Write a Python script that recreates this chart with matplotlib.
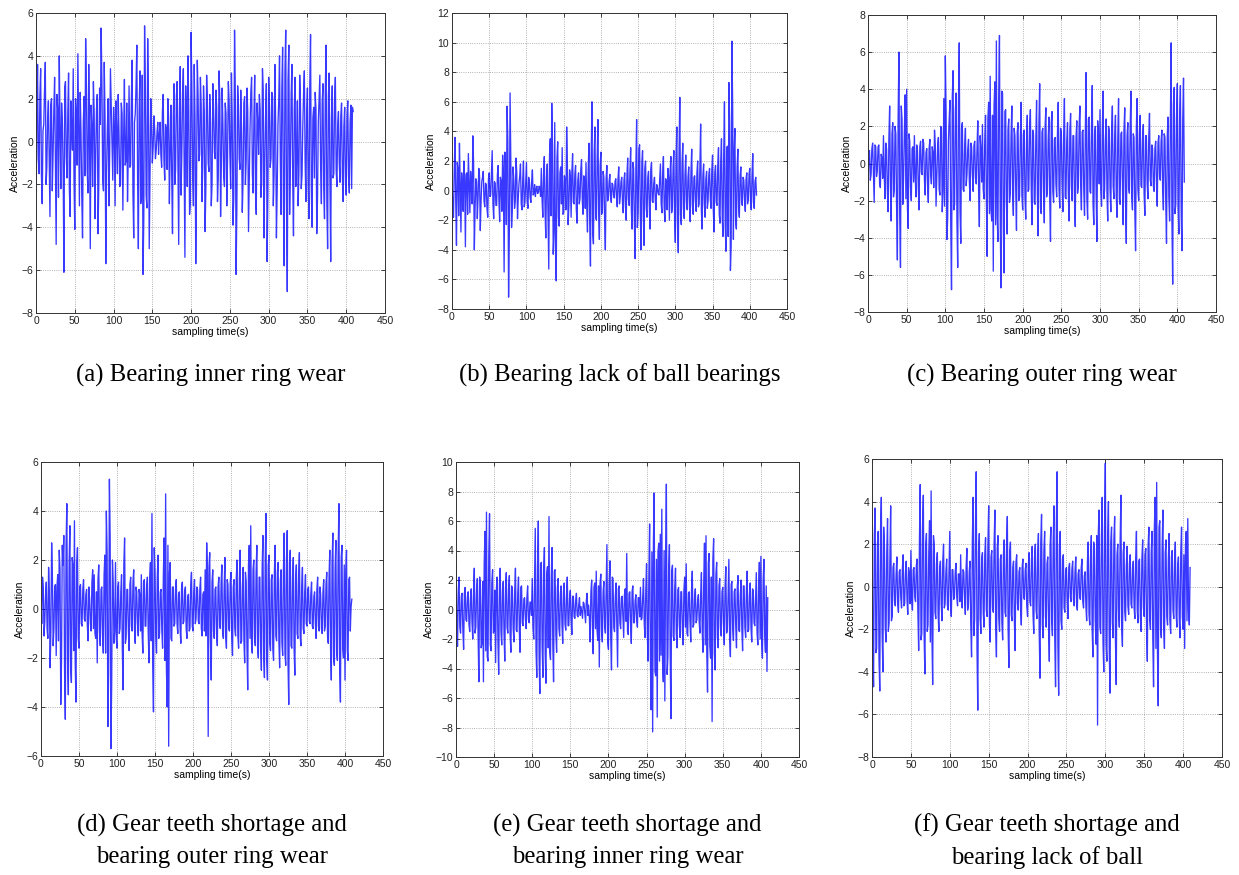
import numpy as np
import matplotlib
matplotlib.use("Agg")
import matplotlib.pyplot as plt

plt.rcParams["font.family"] = ["Liberation Sans", "DejaVu Sans"]

# Each signal is read off in two passes: even samples (t = 0, 2, 4, ...)
# and odd samples (t = 1, 3, 5, ...).

# (a) Bearing inner ring wear
A_EVEN = [
    -4.2, 3.6, -1.5, 3.4, -2.9, 0.8, 3.7, -1.2, 1.9, -3.5,
    2.0, -0.6, 3.0, -4.8, 1.5, 4.0, -2.2, 0.9, -6.1, 2.8,
    -1.7, 3.2, -3.5, 0.6, 3.4, -4.1, 1.2, 4.1, -3.0, 0.5,
    -4.5, 2.1, 4.8, -1.3, 3.6, -5.0, 0.7, 2.8, -3.6, 1.5,
    -4.3, 2.5, 5.3, -1.8, 3.7, -5.7, 0.6, -3.0, 3.4, -0.4,
    1.6, -3.0, 0.5, 2.2, -2.1, 1.8, -3.2, 2.9, -0.9, -2.8,
    2.6, -1.1, 3.8, -4.5, 1.3, 4.5, -5.0, 3.3, -2.6, -6.2,
    5.4, -2.5, 4.8, -5.0, 2.0, -1.0, 1.2, -0.8, 0.4, -0.6,
    0.9, -1.2, 2.2, -1.8, 0.6, 2.0, -2.9, 1.7, -4.3, 2.7,
    -1.3, 2.8, -4.8, 3.5, -0.6, 3.4, -5.4, 1.2, 4.0, -3.4,
    5.1, -1.6, 3.6, -5.7, 3.8, -0.9, 3.0, -2.8, 2.6, -4.2,
    3.1, -1.0, 2.2, -3.0, 2.7, -0.5, 2.4, -2.8, 3.3, -3.5,
    2.5, -1.6, 1.8, -3.0, 2.8, -0.6, 3.2, -3.9, 5.2, -6.2,
    2.6, -0.8, 2.4, -3.3, 1.8, -2.0, 2.5, -4.2, 0.7, 3.0,
    -2.4, 3.1, -3.4, 0.9, 2.2, -2.6, 3.4, -4.5, 1.2, -5.6,
    3.0, -1.2, 2.3, -3.0, 3.6, -4.5, 0.8, 4.0, -3.4, 4.4,
    -5.8, 5.2, -7.0, 4.5, -1.2, 3.6, -4.4, 3.0, -0.8, -3.0,
    3.1, -2.2, 0.7, 3.3, -2.8, 2.5, -3.6, 5.0, -4.0, 1.6,
    2.3, -4.3, 0.9, 3.1, -2.9, 2.7, -3.6, 4.5, -5.0, 3.2,
    -5.6, 2.6, -1.5, 3.0, -2.1, 1.4, -1.9, 1.8, -2.8, 1.6,
    -2.5, 1.9, -2.4, 1.7, 1.6,
]
A_ODD = [
    1.2, -0.8, 2.1, -1.6, 0.5, 2.4, -2.0, 1.1, -0.9, 1.7,
    -2.3, 1.5, -1.0, 2.2, -2.6, 0.6, 1.8, -1.4, 2.5, -0.7,
    1.3, -2.2, 1.9, -0.4, -1.8, 2.0, -1.1, 0.7, 2.3, -2.5,
    0.9, -1.6, 2.6, -2.4, 0.3, 1.7, -2.1, 1.4, -0.6, 2.2,
    -1.9, 0.8, 2.7, -2.3, 1.1, -1.4, 2.0, -0.5, 1.6, -1.8,
    0.7, 1.9, -1.5, 0.4, -2.0, 1.3, 0.2, -1.1, 1.8, -0.6,
    -1.2, 2.1, -2.4, 0.9, 2.6, -1.7, 1.5, -2.9, 3.1, -3.6,
    2.7, -3.1, 1.9, -1.6, 0.8, -0.3, 0.6, -0.4, 0.9, 0.3,
    -0.6, 1.4, -0.9, 0.8, -1.3, 1.1, -0.4, -1.6, 1.2, -2.0,
    2.1, -0.8, 1.6, -2.5, 2.2, -1.3, 2.6, -2.1, 1.4, -2.8,
    2.4, -3.0, 1.2, -1.9, 2.1, -0.6, 1.7, -1.2, 1.4, -2.2,
    1.8, -1.4, 0.9, -2.0, 1.5, -0.8, 1.6, -1.7, 2.0, -1.1,
    0.8, -2.1, 1.3, -0.7, 1.9, -2.2, 1.0, -2.6, 2.2, -3.1,
    1.7, -1.3, 0.6, -1.8, 2.1, -0.9, 1.4, -1.6, 2.3, -1.5,
    1.2, -2.3, 1.8, -0.6, 1.5, -1.9, 2.4, -1.0, 2.7, -2.4,
    1.6, -0.8, 2.1, -1.5, 0.9, -2.2, 1.9, -0.7, 2.5, -2.8,
    3.3, -2.6, 2.9, -3.4, 2.2, -1.8, 1.5, -2.1, 1.9, -1.4,
    1.8, -1.6, 2.2, -0.9, 1.4, -2.0, 2.6, -2.3, 1.1, -1.7,
    1.5, -2.6, 2.0, -1.2, 1.8, -2.2, 2.3, -2.8, 2.1, -2.0,
    1.1, -1.7, 2.0, -1.3, 0.8, -1.0, 1.2, -1.5, 0.7, -1.9,
    1.2, -1.6, 0.9, -2.2, 1.4,
]

# (b) Bearing lack of ball bearings
B_EVEN = [
    0.5, -1.8, 3.6, -3.7, 1.5, 3.2, -2.8, 0.4, 2.0, -3.8,
    1.2, 2.5, -1.5, 0.3, 3.7, -4.0, 0.8, -1.9, 1.5, -2.7,
    0.6, 1.3, -1.1, 0.4, -1.8, 1.2, -0.3, 2.7, -1.9, 0.5,
    -1.0, 1.7, -2.1, 0.6, 2.4, -5.5, 1.8, 5.7, -7.2, 6.6,
    -2.5, 1.6, -1.2, 2.2, -1.9, 0.5, 1.8, -1.3, 2.0, -0.8,
    1.9, -1.2, 0.6, -0.8, 1.4, -0.2, -0.4, 0.3, -0.1, 0.2,
    1.5, -1.8, 2.3, -3.2, 1.8, -5.3, 3.5, 5.9, -4.3, 4.6,
    -6.1, 3.3, -2.4, 1.6, 2.9, -1.5, 0.7, 4.3, -2.3, 1.4,
    -1.8, 2.5, -0.9, 1.7, -2.2, 1.2, -0.5, 2.1, -1.6, 0.8,
    1.9, -2.8, 3.2, -5.1, 6.0, -3.6, 4.3, -2.0, 4.8, -3.3,
    2.6, -1.4, 0.9, -4.0, 1.7, -0.6, 1.1, -0.8, 0.4, -0.5,
    0.8, -1.1, 1.6, -0.4, 0.9, -1.5, 1.2, -2.0, 2.2, -1.0,
    2.9, -2.6, 1.5, -4.6, 4.8, -1.5, 3.1, -4.0, 2.7, -3.7,
    2.0, -1.8, 1.3, -2.6, 1.9, -0.8, 0.9, -1.3, 0.2, -0.3,
    1.8, -1.5, 2.3, -2.1, 0.6, 1.5, -2.0, 2.3, -1.2, 2.7,
    -3.5, 4.3, -4.2, 6.3, -2.3, 3.2, -1.9, 2.4, -1.3, 1.6,
    -2.1, 2.8, -1.6, 1.0, -1.4, 2.0, -0.9, 4.5, -2.6, 1.8,
    -1.8, 1.3, -0.7, 1.5, -1.2, 2.4, -2.8, 1.7, -1.0, 2.9,
    -2.2, 3.5, -3.1, 6.0, -4.1, 3.0, 7.3, -5.4, 10.1, -3.3,
    4.2, -2.6, 2.8, -1.8, 1.6, -1.0, 0.7, -1.4, 1.2, -0.6,
    1.5, -1.3, 2.5, -1.2, 0.9,
]
B_ODD = [
    -1.0, 1.4, -0.6, 1.9, -1.7, 0.5, 1.2, -1.4, 0.8, 1.1,
    -1.6, 0.4, 1.3, -0.9, 1.8, -1.2, 0.6, -0.5, 1.0, -0.8,
    0.9, -0.7, 0.5, -1.2, 0.8, -0.4, 1.1, -0.9, 0.6, -1.0,
    1.1, -0.6, 0.9, -1.4, 1.3, 2.6, -2.3, 3.4, -3.0, 2.2,
    -1.3, 0.8, -0.7, 1.2, -0.5, 1.0, -0.9, 0.7, -1.1, 0.6,
    -0.7, 0.9, -0.5, 0.6, -0.3, 0.4, 0.1, -0.2, 0.3, -0.4,
    -0.6, 1.1, -1.4, 0.9, -2.0, 2.4, -1.7, 3.1, -2.8, -3.9,
    2.2, -1.8, 1.2, -0.9, -1.6, 1.0, -1.3, 1.8, -1.0, 0.9,
    1.2, -0.8, 1.1, -1.3, 0.7, -0.9, 1.4, -0.6, 1.0, -1.2,
    -1.1, 1.5, -2.2, 2.4, -2.9, 2.6, -1.8, 2.2, -1.5, 1.7,
    -1.6, 1.3, -1.9, 0.8, -0.7, 0.6, -0.4, 0.5, -0.3, 0.6,
    -0.5, 0.8, -0.9, 0.6, -0.8, 0.7, -1.1, 1.0, -0.6, 1.3,
    -1.4, 1.9, -2.2, 1.6, -2.5, 2.8, -1.7, 1.9, -1.8, 1.5,
    -1.2, 0.9, -1.0, 1.4, -0.7, 0.5, -0.6, 0.4, -0.2, 0.8,
    -0.9, 1.2, -1.1, 0.8, -1.3, 0.9, 1.3, -1.5, 1.6, -1.8,
    2.1, -2.4, 2.6, -1.6, 1.8, -1.2, 1.1, -0.8, 0.9, -1.1,
    1.3, -1.0, 0.9, -0.7, 1.2, -1.1, 1.6, -1.4, 1.0, -0.9,
    0.8, -1.2, 1.1, -0.6, 1.4, -1.3, 1.2, -0.8, 1.7, -1.6,
    2.0, -1.8, 2.5, -2.3, 2.9, -3.1, 4.6, -3.7, 5.8, 2.6,
    -2.1, 1.6, -1.2, 1.0, -0.8, 0.9, -0.6, 0.8, -0.9, 1.1,
    -0.7, 1.0, -0.8, 0.6, -0.3,
]

# (c) Bearing outer ring wear
C_EVEN = [
    -1.4, 0.7, -0.6, 1.1, -2.1, 0.9, -0.4, 1.0, -1.3, 0.3,
    1.5, -1.9, 0.8, -2.6, 3.1, -3.1, 2.2, -1.4, 1.6, -5.2,
    6.0, -5.6, 2.4, -0.8, 3.7, 4.0, -3.5, 1.2, -2.0, 0.9,
    1.5, -1.8, 0.7, -2.5, 1.2, -0.6, 1.1, -1.7, 0.8, -2.1,
    1.3, -1.1, 0.6, 1.8, -2.3, 0.9, -1.4, 2.0, -2.6, 3.5,
    5.8, -4.1, 1.2, 3.4, -6.8, 5.0, -2.2, 3.8, -5.6, 6.5,
    -4.3, 2.2, -1.5, 1.9, -0.6, 1.3, -2.0, 0.9, -1.5, 1.2,
    -1.1, 2.3, -3.4, 0.8, 2.1, -1.9, 2.6, -5.0, 3.3, 4.7,
    -3.1, -5.8, 4.4, 6.6, -4.2, 6.9, -6.7, 3.8, -5.9, 2.9,
    -3.8, 2.4, -1.6, 3.1, -2.8, 1.5, -3.6, 2.2, -1.8, 3.3,
    -2.5, 1.8, -3.0, 2.6, -1.4, 2.9, -3.3, 1.6, -2.2, 3.4,
    -3.9, 4.3, -2.7, 1.9, -3.2, 3.0, -1.5, 2.5, -4.2, 2.8,
    -2.1, 1.4, -1.8, 3.3, -2.4, 1.7, -2.6, 3.5, -1.9, 2.2,
    -3.1, 2.7, -2.0, 1.5, -3.4, 2.3, -1.2, 3.1, -2.5, 1.8,
    -2.8, 4.9, -3.0, 2.5, -1.6, 4.2, -3.3, 2.0, -4.2, 1.5,
    2.9, -2.3, 3.9, -1.4, 2.4, -3.1, 1.8, -2.6, 3.1, -1.9,
    2.6, -2.9, 3.5, -2.2, 1.7, -3.3, 3.0, -4.3, 2.2, -1.6,
    3.9, -2.5, 1.4, -4.7, 3.5, -2.0, 2.6, -1.3, 2.1, -2.8,
    1.5, -1.9, 2.7, -1.2, 0.8, -1.5, 1.2, -2.3, 1.5, -0.9,
    1.8, -2.5, 1.4, -4.3, 2.5, -3.1, 6.5, -6.5, 4.1, -2.2,
    4.3, -3.8, 4.2, -4.7, 4.6,
]
C_ODD = [
    0.6, -0.9, 0.8, -0.5, 1.0, -0.7, 0.9, -1.1, 0.5, -0.8,
    -0.6, 1.1, -1.4, 1.3, -1.2, 1.6, -1.8, 2.0, -2.4, 2.6,
    -2.8, 3.1, -2.2, 1.7, -1.9, -2.4, 1.6, -1.3, 0.8, -1.0,
    -0.7, 1.0, -1.2, 0.9, -0.5, 1.3, -0.9, 0.6, -1.1, 0.8,
    -0.6, 0.9, -1.3, 1.0, -0.8, 1.4, -1.7, 1.9, -1.5, -2.3,
    2.7, -3.0, 2.4, -3.3, 3.6, -2.5, 2.9, -3.1, 3.3, -2.6,
    1.9, -1.4, 1.0, -1.2, 0.8, -0.9, 1.1, -0.6, 1.0, -0.8,
    0.9, -1.3, 1.5, -1.0, -1.4, 1.2, -1.6, 2.4, -2.7, -2.5,
    2.6, 3.1, -3.3, -2.8, 3.6, -3.2, 3.9, -3.5, 2.8, -2.1,
    1.8, -2.1, 1.5, -1.6, 1.9, -1.3, 1.7, -2.0, 1.4, -1.7,
    1.6, -1.9, 1.2, -1.5, 2.0, -1.1, 1.8, -2.1, 1.3, -1.6,
    2.1, -2.4, 1.7, -1.4, 2.0, -1.8, 1.3, -1.9, 2.2, -1.5,
    1.3, -1.1, 1.6, -1.4, 1.9, -1.0, 1.5, -1.8, 1.2, -1.5,
    1.8, -1.3, 1.5, -1.9, 1.4, -1.6, 2.0, -1.2, 1.7, -1.4,
    1.6, -1.9, 2.4, -1.5, 1.9, -2.2, 1.6, -1.7, 2.3, -1.1,
    -1.4, 1.8, -1.9, 1.3, -1.6, 2.0, -1.4, 1.7, -1.2, 1.5,
    -1.7, 1.4, -1.9, 1.6, -1.1, 1.8, -2.1, 1.5, -1.3, 1.9,
    -1.8, 1.6, -2.5, 1.9, -1.4, 1.7, -1.2, 1.3, -1.6, 1.5,
    -1.1, 1.3, -0.9, 1.0, -1.2, 0.8, -1.0, 1.1, -0.7, 1.2,
    -1.4, 1.6, -2.0, 1.5, -1.8, 2.2, -3.1, 3.2, -2.7, 2.5,
    -2.3, 2.6, -2.8, 2.4, -1.0,
]

# (d) Gear teeth shortage and bearing outer ring wear
D_EVEN = [
    0.4, 1.3, -1.1, 0.6, -0.8, 1.7, -2.4, 2.7, -1.5, 0.9,
    -1.9, 1.4, 2.4, -3.9, 2.6, 3.0, -4.5, 4.3, -3.5, 3.4,
    -3.0, 1.8, 3.6, -3.8, 2.5, -1.6, 1.0, -0.7, 1.2, -0.5,
    0.8, -1.3, 0.4, -0.9, 1.6, 1.4, -1.2, -2.2, 1.8, -1.5,
    0.9, -1.8, 2.2, 4.0, -4.8, 5.3, -5.7, 2.0, -1.4, 1.9,
    -1.6, 1.1, -0.8, 1.4, -3.3, 2.9, -1.2, 0.8, -1.7, 1.3,
    -0.9, 1.6, -1.4, 0.7, -1.1, 0.6, 1.4, -1.8, 1.2, -0.7,
    1.3, -2.2, 1.9, 3.9, -4.2, 1.5, -1.8, 2.2, -1.0, 0.8,
    -1.6, 2.9, 4.7, -4.0, -5.6, 1.9, -1.3, 0.9, -0.6, 1.2,
    -1.0, 0.7, -1.4, 1.1, -0.5, 0.9, -1.2, 0.6, -0.8, 1.5,
    -0.9, 1.2, -0.4, 0.8, -0.6, 1.3, -1.1, 0.7, 1.6, 2.7,
    -5.2, 2.3, -2.9, 1.6, -1.2, 0.9, -1.5, 1.3, -0.8, 1.8,
    -1.2, 2.1, -1.6, 1.0, -0.9, 1.5, -1.9, 1.2, -1.1, 2.0,
    -1.6, 2.4, -1.3, 1.7, -2.2, 1.1, -3.3, 2.6, 3.4, -1.8,
    2.0, -1.5, 2.6, -2.0, 1.3, -2.5, 3.0, -2.8, 3.9, -2.9,
    2.2, -1.7, 1.4, -2.1, 2.6, -1.3, 1.9, -2.4, 1.6, -1.9,
    3.1, -2.3, 3.2, -3.9, 2.4, -1.6, 2.1, -2.7, 1.8, -1.2,
    2.3, -1.5, 1.7, -1.0, 1.4, -0.7, 0.9, -0.6, 1.1, -0.8,
    0.7, -1.2, 1.3, -0.9, 0.6, -1.0, 1.2, -0.7, 1.5, -1.4,
    2.4, -2.9, 3.1, -2.3, 2.8, -2.1, 4.3, -3.8, 2.6, -2.0,
    -2.9, 2.4, -2.1, 1.3, 0.1,
]
D_ODD = [
    -0.6, 0.9, -0.5, 1.1, -1.2, 0.7, -0.9, 1.3, -0.8, 1.0,
    0.9, -1.3, 1.6, -2.1, 1.8, -2.5, 2.6, -2.2, 1.9, -2.4,
    2.1, -1.7, -2.2, 1.9, -1.2, 0.9, -0.6, 0.8, -0.4, 0.6,
    -0.7, 0.9, -0.6, 1.1, -0.8, -1.0, 0.7, 1.2, -0.9, 0.8,
    -1.1, 1.4, -1.8, 2.3, -2.6, 2.9, -3.1, 1.1, -0.9, -1.2,
    0.9, -1.0, 0.7, -1.6, 1.8, -1.4, 0.8, -0.9, 1.0, -0.7,
    1.1, -0.8, 0.9, -0.6, 0.8, -0.9, -1.0, 1.1, -0.7, 0.9,
    -0.8, 1.2, -1.3, -2.3, 2.5, -1.1, 1.3, -1.2, 0.7, -0.9,
    1.4, -2.1, -2.4, 2.6, 1.5, -1.2, 0.9, -0.7, 0.8, -0.6,
    0.6, -0.8, 0.9, -0.6, 0.7, -0.8, 0.5, -0.9, 1.0, -0.7,
    0.7, -0.6, 0.9, -0.5, 0.8, -0.8, 0.6, -0.9, -1.1, 1.4,
    1.7, -1.3, 1.1, -0.9, 0.8, -1.0, 0.9, -0.7, 1.1, -1.0,
    0.9, -1.1, 1.2, -0.8, 1.1, -1.2, 0.9, -0.8, 1.3, -1.1,
    1.2, -1.4, 0.9, -1.3, 1.5, -1.6, 1.8, -1.2, -1.4, 1.6,
    -1.2, 1.5, -1.6, 1.3, -1.5, 1.7, -1.9, 2.0, -2.1, 1.8,
    -1.4, 1.2, -1.6, 1.3, -1.1, 1.5, -1.3, 1.2, -1.4, 1.6,
    -1.8, 2.0, -2.2, 1.9, -1.5, 1.3, -1.6, 1.2, -1.0, 1.4,
    -1.1, 0.9, -0.8, 0.7, -0.6, 0.8, -0.5, 0.6, -0.7, 0.5,
    -0.6, 0.8, -0.7, 0.9, -0.8, 0.7, -0.9, 1.0, -1.1, 1.3,
    -1.6, 1.9, -2.0, 1.7, -1.8, 2.3, -2.5, 2.1, -1.6, 1.8,
    1.5, -1.7, 1.2, -0.9, 0.4,
]

# (e) Gear teeth shortage and bearing inner ring wear
E_EVEN = [
    3.0, -2.5, 2.2, -1.6, 1.1, -2.7, 1.5, -0.8, 1.2, -1.5,
    1.4, -2.0, 2.8, -1.2, 2.1, -4.9, 1.7, -2.3, -4.9, 5.3,
    6.6, -3.5, 6.5, -2.8, 2.7, -1.5, -3.6, 2.2, -4.4, 2.8,
    -2.4, 1.9, -3.5, 2.5, -1.6, 2.3, -2.9, 1.4, -2.2, 2.8,
    -1.5, 2.2, -2.9, 1.6, -1.1, 0.8, -1.3, 1.6, -0.9, 0.5,
    2.1, -2.0, 5.5, -4.6, 6.0, -5.7, 3.2, -4.6, 4.2, -5.0,
    2.9, 6.3, -3.4, 4.2, -4.9, 2.7, -2.9, 2.1, -1.8, 1.6,
    -2.3, 1.8, -1.4, 2.2, -1.1, 1.3, -1.7, 0.9, -0.6, 1.1,
    -0.5, 0.8, 0.2, -0.6, 0.4, -0.9, 1.1, 0.3, -2.2, 2.0,
    -3.0, 1.8, 2.6, -2.1, -3.9, 2.4, -2.2, 1.9, -1.6, 4.4,
    -2.7, 3.3, -4.1, 2.1, -1.5, 1.8, -3.9, 1.6, -1.3, 0.9,
    -1.9, 1.4, 3.8, -1.7, 1.2, -2.3, 1.6, -0.9, 1.0, -1.2,
    0.8, 1.5, -0.6, 2.1, -1.9, 3.1, -3.5, 5.8, -6.8, -8.3,
    7.9, -4.5, -7.3, 4.5, 5.1, 6.8, -4.9, -6.2, 8.5, -3.2,
    4.4, -7.4, 3.0, -2.1, 2.8, -2.6, 1.5, -1.9, 1.2, -2.4,
    2.2, 3.1, -1.8, 1.2, -2.2, 2.6, -1.0, 1.4, -0.7, 1.0,
    -1.6, 2.5, -2.9, 4.5, 5.0, -5.6, 3.8, -3.3, -7.6, 4.8,
    -4.1, 3.2, -2.6, 2.1, -1.8, 1.5, -2.4, 2.9, -1.4, 3.4,
    -3.2, 1.9, -2.1, 1.4, -2.6, 2.3, -1.5, 2.0, -2.8, 1.6,
    -1.9, 2.6, -1.4, 1.8, -2.2, 1.3, -1.1, 2.5, -2.4, 3.2,
    3.6, -3.3, 3.4, -2.9, -4.2,
]
E_ODD = [
    -1.0, 1.3, -1.2, 0.9, -1.4, 1.1, -0.7, 0.9, -1.0, 0.8,
    -0.9, 1.2, -1.6, 1.3, -1.8, 2.2, -2.6, 1.9, 3.1, -2.8,
    -3.2, 3.6, -2.4, 1.8, -1.6, 1.3, 1.4, -2.1, 1.7, -1.5,
    1.3, -1.6, 1.5, -1.2, 1.4, -1.7, 1.6, -1.3, 1.2, -1.4,
    1.1, -1.3, 1.5, -0.9, 0.7, -0.6, 0.8, -0.7, 0.5, -0.4,
    -1.2, 1.6, -2.8, 2.9, -3.3, 3.1, -2.5, 2.7, -3.0, 2.4,
    -2.6, -2.9, 2.2, -2.4, 2.6, -1.7, 1.5, -1.3, 1.1, -1.0,
    1.2, -1.0, 0.9, -1.1, 0.8, -0.7, 0.9, -0.5, 0.6, -0.4,
    0.3, -0.4, -0.2, 0.5, -0.3, 0.6, -0.4, -0.6, 1.2, -1.1,
    1.5, -1.3, -1.4, 1.6, 1.8, -1.5, 1.2, -1.1, 1.3, -2.2,
    1.8, -1.9, 2.2, -1.2, 0.9, -1.1, 1.4, -0.9, 0.8, -0.6,
    1.0, -0.8, -1.5, 1.1, -0.8, 1.2, -0.9, 0.6, -0.7, 0.8,
    -0.5, -0.7, 0.9, -1.0, 1.3, -1.6, 2.2, -3.1, 3.9, 4.6,
    -4.2, 3.4, 3.9, -3.5, -3.1, -3.6, 4.0, 3.5, -4.4, 2.8,
    -3.1, 2.6, -1.8, 1.5, -1.6, 1.3, -1.1, 1.2, -1.4, 1.3,
    -1.2, -1.6, 1.1, -0.9, 1.3, -1.2, 0.8, -0.9, 0.6, -0.8,
    1.0, -1.4, 1.8, -2.4, -2.9, 3.1, -2.5, 2.2, 3.4, -3.0,
    2.4, -1.9, 1.6, -1.3, 1.2, -1.0, 1.5, -1.6, 1.1, -1.9,
    1.7, -1.3, 1.2, -1.1, 1.5, -1.4, 1.0, -1.3, 1.6, -1.2,
    1.3, -1.5, 1.0, -1.2, 1.4, -0.9, 0.8, -1.6, 1.5, -2.0,
    -2.1, 2.0, -1.8, 1.6, 0.8,
]

# (f) Gear teeth shortage and bearing lack of ball
F_EVEN = [
    3.4, -4.7, 3.7, -2.9, 2.6, -4.9, 4.2, -4.0, 1.9, -2.6,
    3.2, -1.7, 3.8, -1.4, 1.1, -0.9, 1.4, -1.2, 0.8, -1.0,
    1.5, -0.8, 1.2, -1.3, 0.6, 1.7, -1.1, 0.9, -0.7, 1.3,
    -3.0, 4.8, -2.2, 4.3, -4.1, 2.5, -1.8, 3.1, 4.5, -4.6,
    2.0, -1.5, 1.6, -2.1, 1.2, -1.6, 2.0, -0.8, 1.3, -1.1,
    2.6, -1.4, 0.8, -0.5, 1.1, -0.9, 0.6, 1.5, -1.0, 0.7,
    -1.3, 1.8, -0.8, 1.2, -3.3, 4.2, -1.5, 5.4, -5.8, 2.5,
    -2.2, 1.6, -1.9, 2.3, -1.4, 3.8, -2.6, 1.7, -1.2, 3.6,
    -3.3, 2.4, -2.1, 1.5, -2.5, 2.2, -1.4, 3.3, -3.8, 2.1,
    -1.6, 1.2, -3.0, 1.5, -1.1, 0.9, -1.8, 1.3, -0.6, 1.1,
    -1.4, 1.6, -0.9, 1.9, -2.2, 2.0, -1.5, 2.5, -4.3, 3.4,
    -2.4, 2.6, -1.9, 1.4, -3.5, 2.8, -2.3, 3.8, -4.7, 5.4,
    -5.1, 2.6, -2.0, 1.5, -1.2, 0.9, -1.5, 1.1, -0.7, 1.2,
    -0.9, 1.4, -1.1, 0.8, -0.6, 1.3, -1.0, 0.7, -1.6, 2.1,
    -1.8, 2.4, -3.3, 1.8, -2.7, -6.5, 3.6, -2.2, 4.2, -4.0,
    5.8, -3.5, 4.0, -5.0, 2.8, -2.4, 3.3, -4.6, 2.0, -1.9,
    4.3, -2.8, 2.1, -1.6, 1.9, -1.3, 1.5, -1.0, 1.2, -1.5,
    2.6, -1.7, 1.3, -2.1, 2.2, -1.4, 1.8, -3.5, 2.8, -2.0,
    2.6, -4.7, 4.2, 4.9, -5.6, 3.1, -2.4, 3.6, -2.9, 2.2,
    -1.8, 2.5, -2.2, 1.7, -1.5, 2.1, -1.9, 1.4, -2.4, 2.8,
    -2.0, -2.9, 2.6, 3.2, -1.8,
]
F_ODD = [
    -2.6, 2.4, -3.1, 2.0, -3.4, 2.7, -2.2, 2.8, -1.9, 1.6,
    -2.1, 1.3, -1.6, 0.9, -0.7, 0.6, -0.8, 0.7, -0.5, 0.8,
    -0.9, 0.7, -0.6, 0.9, -0.8, -0.6, 0.8, -0.5, 1.0, -1.2,
    2.2, -2.5, 2.8, -2.3, 1.9, -2.1, 1.6, -2.6, -2.2, 2.4,
    -1.2, 1.1, -1.3, 0.9, -0.8, 1.2, -1.0, 0.7, -0.9, 0.8,
    -0.9, 0.8, -0.6, 0.7, -0.5, 0.6, -0.7, -0.6, 0.8, -0.5,
    0.9, -1.1, 0.7, -1.8, 2.1, -2.3, 2.8, -2.9, 1.6, -1.5,
    1.3, -1.2, 1.5, -1.1, 1.9, -1.8, 1.4, -1.0, 2.0, -1.9,
    1.8, -1.5, 1.3, -1.7, 1.5, -1.2, 1.9, -2.0, 1.6, -1.3,
    0.9, -1.5, 1.1, -0.8, 0.7, -1.0, 0.9, -0.5, 0.8, -0.9,
    1.0, -0.7, 1.2, -1.3, 1.4, -1.1, 1.6, -2.2, 2.1, -1.8,
    1.7, -1.4, 1.1, -1.8, 1.9, -1.6, 2.2, -2.5, 2.9, -2.8,
    1.9, -1.6, 1.3, -1.0, 0.8, -0.7, 0.9, -0.5, 0.8, -0.6,
    0.7, -0.8, 0.6, -0.5, 0.9, -0.7, 0.5, -0.9, 1.2, -1.3,
    1.4, -1.9, 2.1, -1.6, 2.4, 2.6, -1.9, 2.4, -2.6, 2.9,
    -2.7, 2.4, -2.9, 2.1, -1.7, 2.2, -2.5, 1.5, -1.2, 2.0,
    -1.9, 1.6, -1.2, 1.0, -0.9, 1.1, -0.8, 0.9, -1.0, 1.3,
    -1.1, 1.2, -1.4, 1.3, -1.0, 1.5, -2.0, 1.9, -1.5, 1.6,
    -2.4, 2.7, -2.9, -3.1, 2.8, -2.0, 1.8, -1.9, 1.6, -1.4,
    1.3, -1.6, 1.4, -1.1, 1.2, -1.3, 1.0, -1.5, 1.6, -1.4,
    1.5, 1.9, -1.6, -1.2, 0.9,
]

SIGNALS = [(A_EVEN, A_ODD), (B_EVEN, B_ODD), (C_EVEN, C_ODD),
           (D_EVEN, D_ODD), (E_EVEN, E_ODD), (F_EVEN, F_ODD)]
YLIMS = [(-8, 6), (-8, 12), (-8, 8), (-6, 6), (-10, 10), (-8, 6)]
CAPTIONS = [
    "(a) Bearing inner ring wear",
    "(b) Bearing lack of ball bearings",
    "(c) Bearing outer ring wear",
    "(d) Gear teeth shortage and\nbearing outer ring wear",
    "(e) Gear teeth shortage and\nbearing inner ring wear",
    "(f) Gear teeth shortage and\nbearing lack of ball",
]

# axes boxes in pixels: left, top, right, bottom
BOXES = [
    (36, 13, 385, 313), (452, 13, 787, 309), (868, 15, 1216, 312),
    (41, 462, 383, 756), (456, 462, 799, 757), (872, 459, 1222, 757),
]
W, H = 1239, 875
SERIF = ["Liberation Serif", "DejaVu Serif"]

fig = plt.figure(figsize=(W / 100, H / 100), dpi=100)
fig.patch.set_facecolor("white")

for i, (even, odd) in enumerate(SIGNALS):
    l, t, r, b = BOXES[i]
    ax = fig.add_axes([l / W, 1 - b / H, (r - l) / W, (b - t) / H])
    y = np.empty(len(even) + len(odd))
    y[0::2] = even
    y[1::2] = odd
    ax.plot(np.arange(len(y)), y, color="#0000ff", lw=0.95, alpha=0.78)
    lo, hi = YLIMS[i]
    ax.set_xlim(0, 450)
    ax.set_ylim(lo, hi)
    ax.set_xticks(np.arange(0, 451, 50))
    ax.set_yticks(np.arange(lo, hi + 0.1, 2))
    ax.grid(True, ls=":", color="#999999", lw=0.6)
    ax.tick_params(direction="in", top=True, right=True, labelsize=7.5,
                   length=3, width=0.6, pad=2, colors="#222222")
    for sp in ax.spines.values():
        sp.set_linewidth(0.7)
        sp.set_color("#333333")
    ax.set_xlabel("sampling time(s)", fontsize=7.5, labelpad=1)
    ax.set_ylabel("Acceleration", fontsize=7.5, labelpad=1)

    cx = (l + r) / 2 / W
    if i < 3:
        fig.text(cx, 1 - 375 / H, CAPTIONS[i], ha="center", va="center",
                 fontsize=17.8, family=SERIF)
    else:
        fig.text(cx, 1 - 841 / H, CAPTIONS[i], ha="center", va="center",
                 fontsize=17.8, linespacing=1.48, family=SERIF)

fig.savefig("out.png", dpi=100)
